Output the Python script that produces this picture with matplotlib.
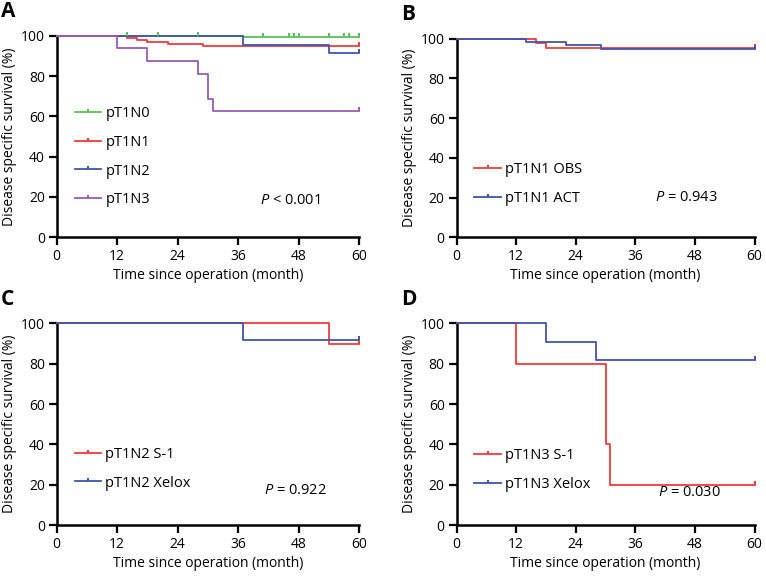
import numpy as np
import matplotlib
matplotlib.use("Agg")
import matplotlib.pyplot as plt
from matplotlib.lines import Line2D

plt.rcParams['font.family'] = ['Open Sans', 'DejaVu Sans']
plt.rcParams['mathtext.fontset'] = 'custom'
plt.rcParams['mathtext.it'] = 'Open Sans:italic'
plt.rcParams['mathtext.rm'] = 'Open Sans'

GREEN = "#5cbf5c"
RED = "#f23a3a"
BLUE = "#3f55ad"
PURPLE = "#9a5cb4"

# panel A: pT1 stage by N category
a_labels = ["pT1N0", "pT1N1", "pT1N2", "pT1N3"]
a_times = [[0, 37], [0, 14, 16, 18, 22, 29], [0, 37, 54], [0, 12, 18, 28, 30, 31]]
a_surv = [[100, 99.2], [100, 99.0, 98.0, 97.0, 96.0, 95.0],
          [100, 95.4, 91.2], [100, 93.75, 87.5, 81.25, 68.75, 62.5]]
a_censor = [[14, 20, 28, 41, 46, 47, 48, 54, 57, 58, 60], [60], [60], [60]]
a_p = "< 0.001"

# panel B: pT1N1 observation vs adjuvant
b_labels = ["pT1N1 OBS", "pT1N1 ACT"]
b_times = [[0, 16, 18], [0, 14, 22, 29]]
b_surv = [[100, 97.8, 95.4], [100, 98.3, 96.6, 94.9]]
b_censor = [[60], [60]]
b_p = "= 0.943"

# panel C: pT1N2 S-1 vs Xelox
c_labels = ["pT1N2 S-1", "pT1N2 Xelox"]
c_times = [[0, 54], [0, 37]]
c_surv = [[100, 90.0], [100, 91.7]]
c_censor = [[60], [60]]
c_p = "= 0.922"

# panel D: pT1N3 S-1 vs Xelox
d_labels = ["pT1N3 S-1", "pT1N3 Xelox"]
d_times = [[0, 12, 30, 31], [0, 18, 28]]
d_surv = [[100, 80, 40, 20], [100, 90.9, 81.8]]
d_censor = [[60], [60]]
d_p = "= 0.030"

xticks = [0, 12, 24, 36, 48, 60]
yticks = [0, 20, 40, 60, 80, 100]

# censor mark: short vertical stroke going up from the curve
TICK = [(0, 0), (0, 1)]


def surv_at(times, surv, t):
    idx = np.searchsorted(times, t, side="right") - 1
    return np.asarray(surv)[idx]


def km_panel(ax, letter, labels, times, surv, censor, colors, pval,
             leg_y, p_xy):
    handles = []
    for lab, t, s, cen, c in zip(labels, times, surv, censor, colors):
        tt = list(t) + [60]
        ss = list(s) + [s[-1]]
        ax.plot(tt, ss, drawstyle="steps-post", color=c, lw=1.3,
                clip_on=False, zorder=3)
        cy = [surv_at(t, s, x) for x in cen]
        ax.plot(cen, cy, ls="none", marker=TICK, ms=5.5, mew=1.4,
                color=c, clip_on=False, zorder=4)
        handles.append(Line2D([], [], color=c, lw=1.3, marker=TICK,
                              ms=4.5, mew=1.4))

    ax.set_xlim(0, 60)
    ax.set_ylim(0, 100)
    ax.set_xticks(xticks)
    ax.set_yticks(yticks)
    for sp in ["top", "right"]:
        ax.spines[sp].set_visible(False)
    for sp in ["left", "bottom"]:
        ax.spines[sp].set_linewidth(1.8)
    ax.tick_params(width=1.6, length=5.5, labelsize=10, pad=3)
    ax.set_xlabel("Time since operation (month)", fontsize=10, labelpad=3)
    ax.set_ylabel("Disease specific survival (%)", fontsize=10, labelpad=3)

    ax.legend(handles, labels, loc="center left", frameon=False,
              bbox_to_anchor=(0.06, leg_y), fontsize=10.5, handlelength=1.8,
              handletextpad=0.3, labelspacing=0.95, borderpad=0,
              borderaxespad=0, numpoints=1)
    ax.text(p_xy[0], p_xy[1], r"$\it{P}$ " + pval, fontsize=10.5,
            ha="center", va="center")
    ax.text(-0.185, 1.12, letter, transform=ax.transAxes, fontsize=15,
            fontweight="bold", va="center", ha="left")


fig = plt.figure(figsize=(7.66, 5.76), dpi=100)
ax_a = fig.add_axes([0.074, 0.588, 0.395, 0.350])
ax_b = fig.add_axes([0.596, 0.588, 0.389, 0.345])
ax_c = fig.add_axes([0.074, 0.0885, 0.395, 0.350])
ax_d = fig.add_axes([0.596, 0.0885, 0.389, 0.350])

km_panel(ax_a, "A", a_labels, a_times, a_surv, a_censor,
         [GREEN, RED, BLUE, PURPLE], a_p, 0.40, (46.3, 18.5))
km_panel(ax_b, "B", b_labels, b_times, b_surv, b_censor,
         [RED, BLUE], b_p, 0.268, (46.3, 20))
km_panel(ax_c, "C", c_labels, c_times, c_surv, c_censor,
         [RED, BLUE], c_p, 0.28, (47.3, 17.3))
km_panel(ax_d, "D", d_labels, d_times, d_surv, d_censor,
         [RED, BLUE], d_p, 0.274, (46.9, 15.9))

fig.savefig("out.png", dpi=100)
